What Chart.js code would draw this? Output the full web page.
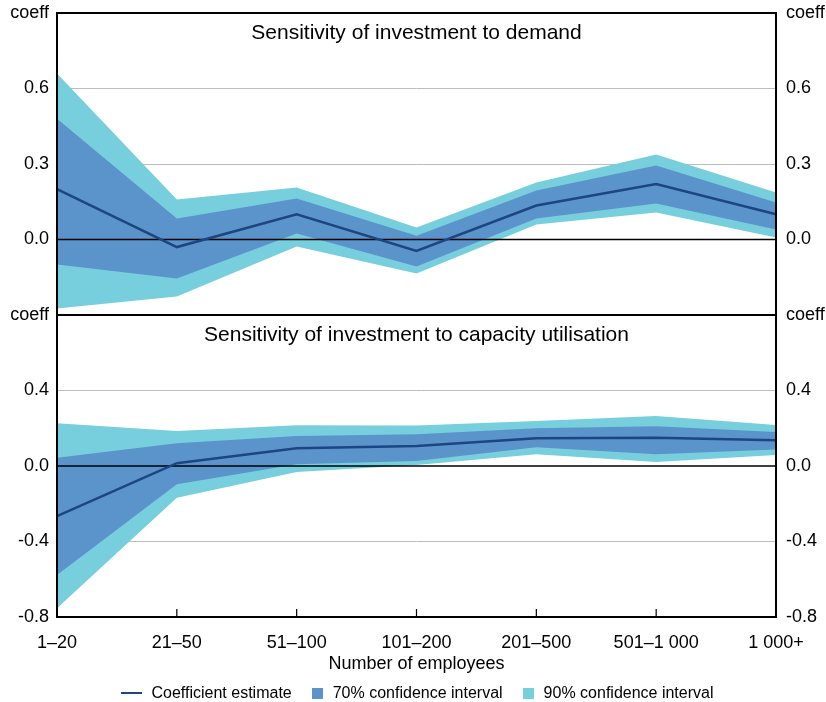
<!DOCTYPE html>
<html>
<head>
<meta charset="utf-8">
<script src="https://cdn.jsdelivr.net/npm/chart.js@4.4.1/dist/chart.umd.min.js"></script>
<style>
  html, body { margin: 0; padding: 0; background: #fff; }
  #wrap { position: relative; width: 826px; height: 702px; font-family: "Liberation Sans", Arial, sans-serif; }
  #topBox { position: absolute; left: 0; top: 0; width: 826px; height: 330px; }
  #bottomBox { position: absolute; left: 0; top: 300px; width: 826px; height: 377px; }
  #legend { position: absolute; left: 4px; top: 683px; width: 826px; height: 20px;
    display: flex; justify-content: center; align-items: center; font-size: 16px; color: #000; }
  .item { display: flex; align-items: center; margin: 0 10px; }
  .swatch { margin-right: 10px; }
</style>
</head>
<body>
<div id="wrap">
  <div id="topBox"><canvas id="demand"></canvas></div>
  <div id="bottomBox"><canvas id="capacity"></canvas></div>
  <div id="legend"></div>
</div>
<script>
const categories = ['1–20', '21–50', '51–100', '101–200', '201–500', '501–1 000', '1 000+'];

// Sensitivity of investment to demand
const demandCoef    = [0.20, -0.03, 0.10, -0.045, 0.135, 0.22, 0.10];
const demand70Upper = [0.48, 0.083, 0.163, 0.015, 0.195, 0.294, 0.147];
const demand70Lower = [-0.099, -0.155, 0.024, -0.107, 0.083, 0.143, 0.04];
const demand90Upper = [0.66, 0.159, 0.207, 0.048, 0.226, 0.338, 0.187];
const demand90Lower = [-0.274, -0.226, -0.028, -0.135, 0.06, 0.107, 0.008];
const demandRange = [-0.3, 0.9];
const demandStep = 0.3;

// Sensitivity of investment to capacity utilisation
const capacityCoef    = [-0.265, 0.015, 0.094, 0.106, 0.147, 0.15, 0.136];
const capacity70Upper = [0.044, 0.12, 0.159, 0.168, 0.2, 0.21, 0.18];
const capacity70Lower = [-0.577, -0.097, 0.009, 0.026, 0.10, 0.062, 0.088];
const capacity90Upper = [0.226, 0.185, 0.216, 0.215, 0.238, 0.265, 0.217];
const capacity90Lower = [-0.754, -0.168, -0.032, 0.005, 0.062, 0.021, 0.058];
const capacityRange = [-0.8, 0.8];
const capacityStep = 0.4;

const NAVY = '#1d4580';
const BLUE = '#5b94cb';
const CYAN = '#77cfdd';
const FONT = '"Liberation Sans", Arial, sans-serif';

const panelDecor = {
  id: 'panelDecor',
  beforeDatasetDraw(chart, args) {
    if (args.index !== 0) return;
    const { ctx, chartArea: a } = chart;
    const y0 = chart.scales.y.getPixelForValue(0);
    ctx.save();
    ctx.strokeStyle = '#000';
    ctx.lineWidth = 1.5;
    ctx.beginPath();
    ctx.moveTo(a.left, y0);
    ctx.lineTo(a.right, y0);
    ctx.stroke();
    ctx.restore();
  },
  afterDatasetsDraw(chart, args, opts) {
    const { ctx, chartArea: a } = chart;
    ctx.save();
    ctx.strokeStyle = '#000';
    ctx.lineWidth = 2;
    ctx.strokeRect(a.left, a.top, a.right - a.left, a.bottom - a.top);
    if (opts.innerTicks) {
      const xs = chart.scales.x;
      ctx.lineWidth = 1.2;
      ctx.beginPath();
      for (let i = 1; i < categories.length - 1; i++) {
        const x = xs.getPixelForTick(i);
        ctx.moveTo(x, a.bottom);
        ctx.lineTo(x, a.bottom - 8);
      }
      ctx.stroke();
    }
    ctx.fillStyle = '#000';
    ctx.font = '21px ' + FONT;
    ctx.textAlign = 'center';
    ctx.textBaseline = 'middle';
    ctx.fillText(opts.title, (a.left + a.right) / 2, a.top + 20);
    ctx.restore();
  }
};

function band(data, color, label, fill) {
  return {
    label: label, data: data, fill: fill,
    backgroundColor: color, borderColor: color, borderWidth: 0,
    pointRadius: 0, tension: 0
  };
}

function makePanel(canvasId, title, coef, u70, l70, u90, l90, range, step, withX) {
  const [min, max] = range;
  const tickLabel = (v) => {
    if (Math.abs(v - max) < 1e-9) return 'coeff';
    if (!withX && Math.abs(v - min) < 1e-9) return '';
    if (Math.abs(v) < 1e-9) return '0.0';
    return v.toFixed(1);
  };
  const yTicks = { stepSize: step, callback: tickLabel, color: '#000', padding: 8,
    font: { family: FONT, size: 18 } };
  const fitY = (w) => (s) => { s.width = w; s.paddingTop = 0; s.paddingBottom = 0; };
  return new Chart(document.getElementById(canvasId), {
    type: 'line',
    data: {
      labels: categories,
      datasets: [
        { label: 'Coefficient estimate', data: coef, borderColor: NAVY, backgroundColor: NAVY,
          borderWidth: 2.5, pointRadius: 0, fill: false, tension: 0 },
        band(u70, BLUE, '70% confidence interval', '+1'),
        band(l70, BLUE, '', false),
        band(u90, CYAN, '90% confidence interval', '+1'),
        band(l90, CYAN, '', false)
      ]
    },
    options: {
      responsive: true,
      maintainAspectRatio: false,
      animation: false,
      layout: { padding: withX ? { top: 15, bottom: 0, left: 0, right: 0 } : { top: 13, bottom: 15, left: 0, right: 0 } },
      plugins: {
        legend: { display: false },
        tooltip: { enabled: false },
        panelDecor: { title: title, innerTicks: withX }
      },
      scales: {
        x: {
          display: withX,
          offset: false,
          grid: { display: false },
          border: { display: false },
          ticks: { color: '#000', padding: 7, maxRotation: 0, autoSkip: false,
            font: { family: FONT, size: 18 } },
          title: { display: true, text: 'Number of employees', color: '#000',
            font: { family: FONT, size: 18 }, padding: { top: 0, bottom: 2 } },
          afterFit: (s) => { if (withX) s.height = 60; }
        },
        y: {
          position: 'left', min: min, max: max,
          ticks: yTicks,
          border: { display: false },
          grid: {
            drawTicks: false, lineWidth: 1,
            color: (c) => {
              const v = c.tick.value;
              if (Math.abs(v) < 1e-9 || Math.abs(v - min) < 1e-9 || Math.abs(v - max) < 1e-9) return 'rgba(0,0,0,0)';
              return '#bdbdbd';
            }
          },
          afterFit: fitY(57)
        },
        y2: {
          position: 'right', min: min, max: max,
          ticks: Object.assign({}, yTicks, { padding: 10 }),
          border: { display: false },
          grid: { display: false, drawTicks: false },
          afterFit: fitY(50)
        }
      }
    },
    plugins: [panelDecor]
  });
}

makePanel('demand', 'Sensitivity of investment to demand',
  demandCoef, demand70Upper, demand70Lower, demand90Upper, demand90Lower, demandRange, demandStep, false);
const capChart = makePanel('capacity', 'Sensitivity of investment to capacity utilisation',
  capacityCoef, capacity70Upper, capacity70Lower, capacity90Upper, capacity90Lower, capacityRange, capacityStep, true);

// legend built from the chart's own datasets
const legend = document.getElementById('legend');
capChart.data.datasets.filter(d => d.label).forEach((d, i) => {
  const item = document.createElement('div');
  item.className = 'item';
  const sw = document.createElement('span');
  sw.className = 'swatch';
  if (i === 0) {
    sw.style.cssText = 'display:inline-block;width:21px;height:2.5px;background:' + d.borderColor;
  } else {
    sw.style.cssText = 'display:inline-block;width:11px;height:11px;background:' + d.backgroundColor;
  }
  item.appendChild(sw);
  item.appendChild(document.createTextNode(d.label));
  legend.appendChild(item);
});
</script>
</body>
</html>
